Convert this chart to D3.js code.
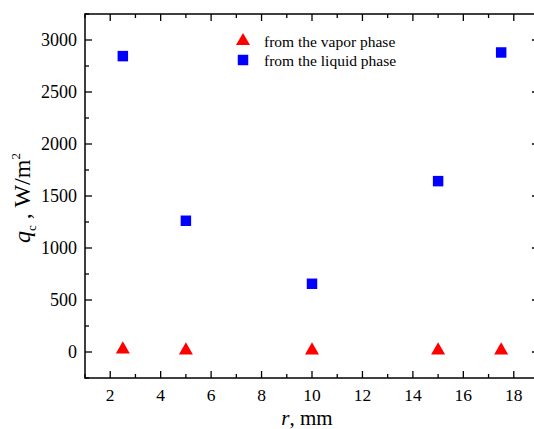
<!DOCTYPE html>
<html>
<head>
<meta charset="utf-8">
<script src="https://cdn.jsdelivr.net/npm/d3@7"></script>
<style>
  body { margin: 0; background: #fff; }
  text { font-family: 'Liberation Serif', 'DejaVu Serif', serif; }
</style>
</head>
<body>
<svg width="534" height="429"></svg>
<script>
let width = 534, height = 429;

// data
let radius = [2.5, 5, 10, 15, 17.5];
let vaporFlux = [25, 15, 15, 15, 15];
let liquidFlux = [2845, 1262, 656, 1643, 2880];
let seriesNames = ["from the vapor phase", "from the liquid phase"];
let xTicks = [2, 4, 6, 8, 10, 12, 14, 16, 18];
let yTicks = [0, 500, 1000, 1500, 2000, 2500, 3000];

let margin = {left: 85, top: 14, right: -5, bottom: 51};

let svg = d3.select("svg").attr("font-family", "Liberation Serif, DejaVu Serif, serif");

let x = d3.scaleLinear().domain([1, 19]).range([margin.left, width - margin.right]);
let y = d3.scaleLinear().domain([-250, 3250]).range([height - margin.bottom, margin.top]);

let xMinor = d3.range(1, 19.01, 1);
let yMinor = d3.range(-250, 3250.1, 250);

// frame
svg.append("rect")
    .attr("x", x.range()[0]).attr("y", y.range()[1])
    .attr("width", x.range()[1] - x.range()[0])
    .attr("height", y.range()[0] - y.range()[1])
    .attr("fill", "none").attr("stroke", "#000").attr("stroke-width", 1.5);

let ticks = svg.append("g").attr("stroke", "#000").attr("stroke-width", 1.3);
let y0 = y.range()[0], y1 = y.range()[1], x0 = x.range()[0], x1 = x.range()[1];

xMinor.forEach(v => {
  let len = xTicks.includes(v) ? 7 : 4;
  ticks.append("line").attr("x1", x(v)).attr("x2", x(v)).attr("y1", y0).attr("y2", y0 - len);
  ticks.append("line").attr("x1", x(v)).attr("x2", x(v)).attr("y1", y1).attr("y2", y1 + len);
});
yMinor.forEach(v => {
  let len = yTicks.includes(v) ? 7 : 4;
  ticks.append("line").attr("y1", y(v)).attr("y2", y(v)).attr("x1", x0).attr("x2", x0 + len);
  ticks.append("line").attr("y1", y(v)).attr("y2", y(v)).attr("x1", x1).attr("x2", x1 - len);
});

// tick labels
svg.append("g").selectAll("text")
    .data(xTicks).enter().append("text")
    .attr("x", d => x(d)).attr("y", y0 + 23)
    .attr("text-anchor", "middle").attr("font-size", 17.5)
    .text(d => d);

svg.append("g").selectAll("text")
    .data(yTicks).enter().append("text")
    .attr("x", x0 - 8).attr("y", d => y(d)).attr("dy", "0.35em")
    .attr("text-anchor", "end").attr("font-size", 18)
    .text(d => d);

// axis titles
let xt = svg.append("text")
    .attr("x", 307).attr("y", 425)
    .attr("text-anchor", "middle").attr("font-size", 21);
xt.append("tspan").attr("font-style", "italic").text("r");
xt.append("tspan").text(", mm");

let yt = svg.append("text")
    .attr("transform", "translate(30,198) rotate(-90)")
    .attr("text-anchor", "middle").attr("font-size", 24);
yt.append("tspan").attr("font-style", "italic").text("q");
yt.append("tspan").attr("font-size", 13).attr("dy", 6).text("c");
yt.append("tspan").attr("dy", -6).text(" , W/m");
yt.append("tspan").attr("font-size", 13).attr("dy", -10).text("2");

// points
let tri = d3.symbol().type(d3.symbolTriangle).size(85);
let sq = d3.symbol().type(d3.symbolSquare).size(110);

svg.append("g").selectAll("path")
    .data(radius.map((r, i) => [r, liquidFlux[i]])).enter().append("path")
    .attr("d", sq)
    .attr("transform", d => `translate(${x(d[0])},${y(d[1])})`)
    .attr("fill", "#0000ff");

svg.append("g").selectAll("path")
    .data(radius.map((r, i) => [r, vaporFlux[i]])).enter().append("path")
    .attr("d", tri)
    .attr("transform", d => `translate(${x(d[0])},${y(d[1])})`)
    .attr("fill", "#ff0000");

// legend
let legend = svg.append("g");
legend.append("path").attr("d", tri).attr("transform", "translate(243,41)").attr("fill", "#ff0000");
legend.append("path").attr("d", sq).attr("transform", "translate(243,60)").attr("fill", "#0000ff");
legend.selectAll("text")
    .data(seriesNames).enter().append("text")
    .attr("x", 264).attr("y", (d, i) => 42 + i * 19).attr("dy", "0.35em")
    .attr("font-size", 15.5)
    .text(d => d);
</script>
</body>
</html>
